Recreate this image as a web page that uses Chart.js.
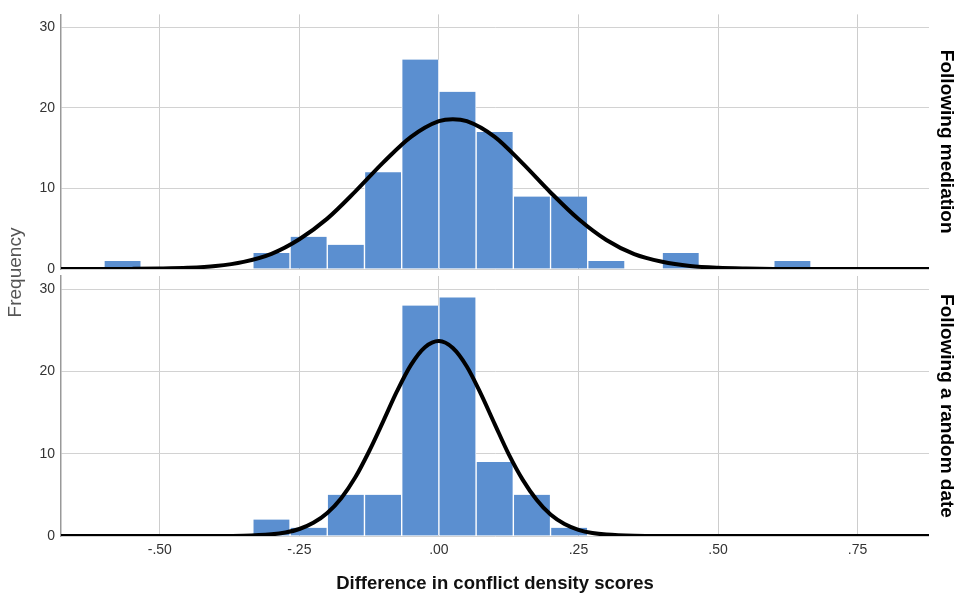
<!DOCTYPE html>
<html>
<head>
<meta charset="utf-8">
<script src="https://cdn.jsdelivr.net/npm/chart.js@4.4.1/dist/chart.umd.min.js"></script>
<style>
  body { margin: 0; background: #fff; }
  #wrap { position: relative; width: 956px; height: 594px; }
  #wrap canvas { position: absolute; left: 0; top: 0; }
</style>
</head>
<body>
<div id="wrap">
  <canvas id="topChart" width="956" height="594"></canvas>
  <canvas id="bottomChart" width="956" height="594"></canvas>
</div>
<script>
// histogram bins (width 1/15), centre of each bin
const binCenters = [-0.5667, -0.5, -0.4333, -0.3667, -0.3, -0.2333, -0.1667, -0.1, -0.0333,
  0.0333, 0.1, 0.1667, 0.2333, 0.3, 0.3667, 0.4333, 0.5, 0.5667, 0.6333];
const countsMediation = [1, null, null, null, 2, 4, 3, 12, 26, 22, 17, 9, 9, 1, null, 2, null, null, 1];
const countsRandom = [null, null, null, null, 2, 1, 5, 5, 28, 29, 9, 5, 1, null, null, null, null, null, null];

// normal curves
const curveXMediation = [-0.677, -0.6, -0.55, -0.5, -0.45, -0.4, -0.35, -0.3, -0.25, -0.2, -0.15, -0.1, -0.05,
  0, 0.025, 0.05, 0.1, 0.15, 0.2, 0.25, 0.3, 0.35, 0.4, 0.45, 0.5, 0.55, 0.6, 0.65, 0.7, 0.878];
const curveYMediation = [0, 0.005, 0.015, 0.05, 0.14, 0.37, 0.89, 1.89, 3.7, 6.25, 9.6, 13.2, 16.4,
  18.35, 18.6, 18.35, 16.4, 13.1, 9.5, 6.2, 3.6, 1.85, 0.9, 0.37, 0.14, 0.05, 0.015, 0.005, 0, 0];
const curveXRandom = [-0.677, -0.4, -0.35, -0.3, -0.275, -0.25, -0.225, -0.2, -0.175, -0.15, -0.125, -0.1,
  -0.075, -0.05, -0.025, 0, 0.025, 0.05, 0.075, 0.1, 0.125, 0.15, 0.175, 0.2, 0.225, 0.25, 0.275, 0.3,
  0.35, 0.4, 0.878];
const curveYRandom = [0, 0.005, 0.03, 0.2, 0.42, 0.85, 1.6, 2.8, 4.6, 7.1, 10.3, 13.9, 17.6, 20.8, 22.95,
  23.7, 22.85, 20.6, 17.3, 13.6, 9.95, 6.85, 4.4, 2.6, 1.45, 0.75, 0.36, 0.17, 0.03, 0.005, 0];

const xTicks = [-0.5, -0.25, 0, 0.25, 0.5, 0.75];
const xTickLabels = ['-.50', '-.25', '.00', '.25', '.50', '.75'];
const yTicks = [0, 10, 20, 30];
const yTickLabels = ['0', '10', '20', '30'];
const panelTitles = ['Following mediation', 'Following a random date'];

const X_MIN = -0.677, X_MAX = 0.878, Y_MAX = 31.6;
const FONT = '"Liberation Sans", Arial, sans-serif';
Chart.defaults.font.family = FONT;

const toPoints = (xs, ys) => xs.map((x, i) => ({ x: x, y: ys[i] }));

// "Frequency" sits between the two panels
const frequencyLabel = {
  id: 'frequencyLabel',
  afterDraw(chart) {
    const ctx = chart.ctx;
    ctx.save();
    ctx.translate(15.5, 272.5);
    ctx.rotate(-Math.PI / 2);
    ctx.font = '19px ' + FONT;
    ctx.fillStyle = '#555';
    ctx.textAlign = 'center';
    ctx.textBaseline = 'middle';
    ctx.fillText('Frequency', 0, 0);
    ctx.restore();
  }
};

const makePanel = (canvasId, counts, cx, cy, title, isBottom) => {
  return new Chart(document.getElementById(canvasId), {
    type: 'bar',
    data: {
      datasets: [
        {
          type: 'line',
          data: toPoints(cx, cy),
          borderColor: '#000',
          borderWidth: 4,
          pointRadius: 0,
          cubicInterpolationMode: 'monotone',
          fill: false,
          order: 0,
        },
        {
          type: 'bar',
          data: toPoints(binCenters, counts),
          backgroundColor: '#5b8fd0',
          borderColor: '#fff',
          borderWidth: { left: 1, right: 1, top: 0, bottom: 0 },
          barPercentage: 1,
          categoryPercentage: 1,
          order: 1,
        },
      ],
    },
    options: {
      responsive: false,
      animation: false,
      layout: { padding: isBottom ? { top: 276, bottom: 0, left: 0, right: 0 } : { top: 11, bottom: 325, left: 0, right: 0 } },
      plugins: { legend: { display: false }, tooltip: { enabled: false } },
      scales: {
        x: {
          type: 'linear',
          min: X_MIN,
          max: X_MAX,
          offset: false,
          grid: { color: '#cdcdcd', lineWidth: 1, drawTicks: false, offset: false },
          border: { display: false },
          afterBuildTicks: (s) => { s.ticks = xTicks.map((v) => ({ value: v })); },
          ticks: {
            display: isBottom,
            padding: 6,
            color: '#333',
            font: { size: 14 },
            maxRotation: 0,
            callback: (v, i) => xTickLabels[i],
          },
          title: {
            display: isBottom,
            text: 'Difference in conflict density scores',
            color: '#111',
            font: { size: 18.5, weight: 'bold', lineHeight: 1.05 },
            padding: 0,
          },
          afterFit: (s) => { s.height = isBottom ? 58 : 0; },
        },
        y: {
          type: 'linear',
          position: 'left',
          min: 0,
          max: Y_MAX,
          grid: { color: '#d2d2d2', lineWidth: 1, drawTicks: false },
          border: { display: true, color: '#999', width: 1.5 },
          afterBuildTicks: (s) => { s.ticks = yTicks.map((v) => ({ value: v })); },
          ticks: { padding: 6, color: '#333', font: { size: 14 }, callback: (v, i) => yTickLabels[i] },
          afterFit: (s) => { s.width = 61; },
        },
        panel: {
          axis: 'y',
          type: 'linear',
          position: 'right',
          grid: { display: false },
          border: { display: false },
          ticks: { display: false },
          title: { display: true, text: title, color: '#000', font: { size: 19, weight: 'bold', lineHeight: 1 }, padding: 0 },
          afterFit: (s) => { s.width = 27; },
        },
      },
    },
    plugins: isBottom ? [frequencyLabel] : [],
  });
};

makePanel('topChart', countsMediation, curveXMediation, curveYMediation, panelTitles[0], false);
makePanel('bottomChart', countsRandom, curveXRandom, curveYRandom, panelTitles[1], true);
</script>
</body>
</html>
